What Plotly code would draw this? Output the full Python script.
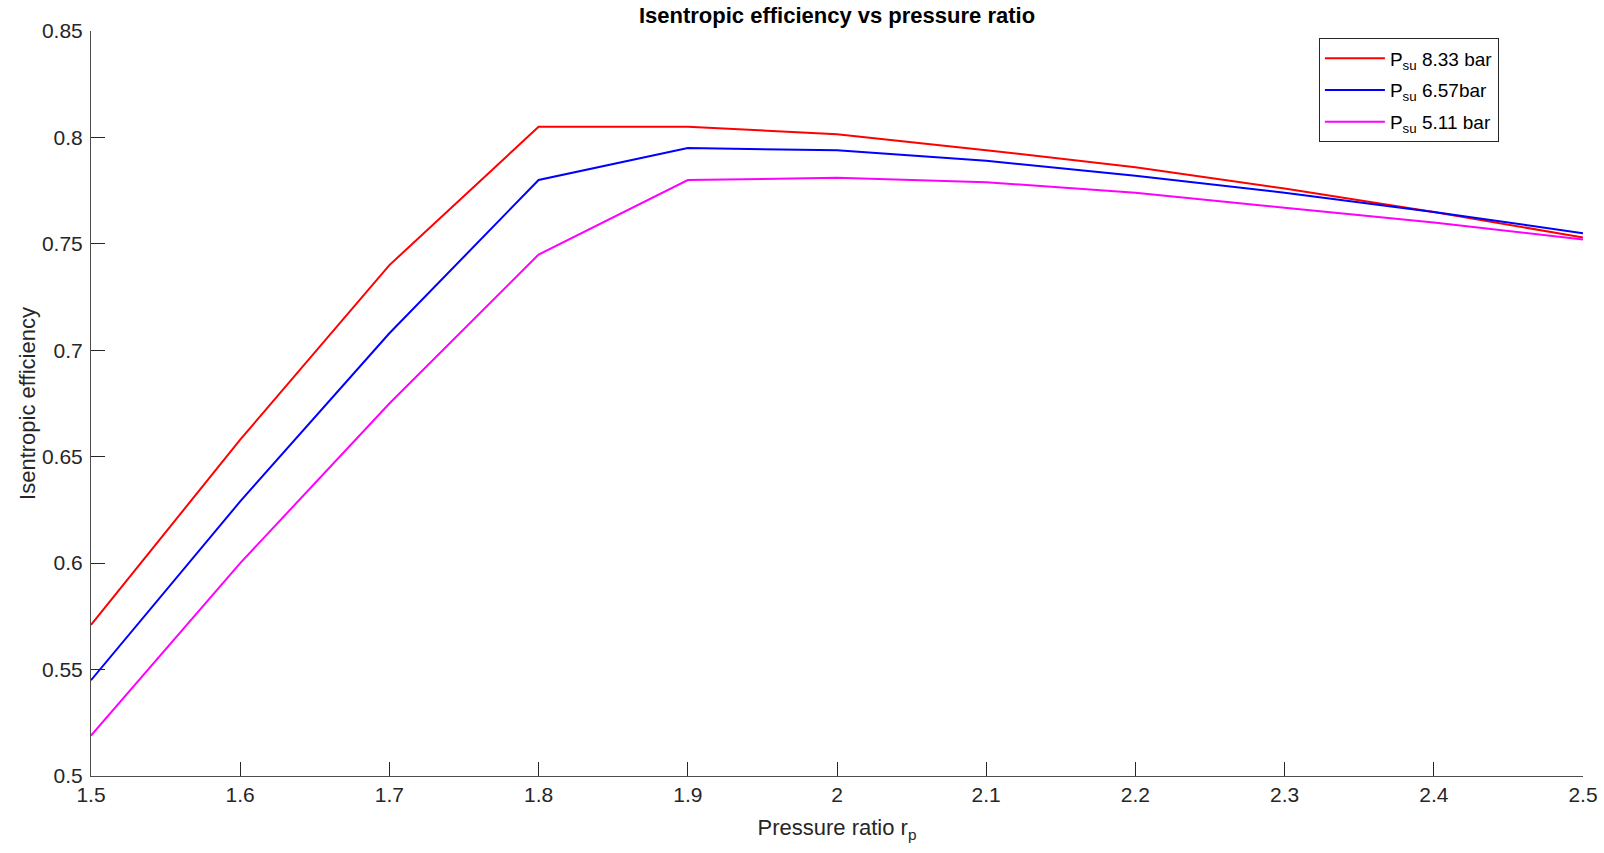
import plotly.graph_objects as go

pressure_ratio = [1.5, 1.6, 1.7, 1.8, 1.9, 2.0, 2.1, 2.2, 2.3, 2.4, 2.5]
eff_833 = [0.571, 0.658, 0.740, 0.805, 0.805, 0.8015, 0.794, 0.786, 0.776, 0.765, 0.753]
eff_657 = [0.545, 0.629, 0.708, 0.780, 0.795, 0.794, 0.789, 0.782, 0.774, 0.765, 0.755]
eff_511 = [0.519, 0.600, 0.675, 0.745, 0.780, 0.781, 0.779, 0.774, 0.767, 0.760, 0.752]
names = ["P<sub>su</sub> 8.33 bar", "P<sub>su</sub> 6.57bar", "P<sub>su</sub> 5.11 bar"]
colors = ["#ff0000", "#0000ff", "#ff00ff"]
x_ticks = [1.5, 1.6, 1.7, 1.8, 1.9, 2.0, 2.1, 2.2, 2.3, 2.4, 2.5]
x_tick_labels = ["1.5", "1.6", "1.7", "1.8", "1.9", "2", "2.1", "2.2", "2.3", "2.4", "2.5"]
y_ticks = [0.5, 0.55, 0.6, 0.65, 0.7, 0.75, 0.8, 0.85]
y_tick_labels = ["0.5", "0.55", "0.6", "0.65", "0.7", "0.75", "0.8", "0.85"]

FONT = "Arial, Liberation Sans, Helvetica, sans-serif"

fig = go.Figure()
for i, (ys, nm, c) in enumerate(zip([eff_833, eff_657, eff_511], names, colors)):
    fig.add_trace(go.Scatter(x=pressure_ratio, y=ys, mode="lines", name=nm,
                             legendgroup=f"g{i}",
                             line=dict(color=c, width=2)))

axis_common = dict(showline=True, linecolor="#4d4d4d", linewidth=1, ticks="inside",
                   ticklen=14, tickcolor="#262626", showgrid=False, zeroline=False,
                   automargin=False, mirror=False,
                   tickfont=dict(family=FONT, size=21, color="#262626"))

fig.update_layout(
    width=1604, height=853,
    margin=dict(l=91, r=21, t=31, b=77),
    paper_bgcolor="white", plot_bgcolor="white",
    title=dict(text="<b>Isentropic efficiency vs pressure ratio</b>", x=0.5, xref="paper",
               y=0.982, yanchor="middle",
               font=dict(family=FONT, size=22, color="#000000")),
    xaxis=dict(range=[1.5, 2.5], tickvals=x_ticks, ticktext=x_tick_labels,
               ticklabelstandoff=0,
               title=dict(text="Pressure ratio r<sub>p</sub>", standoff=14,
                          font=dict(family=FONT, size=22, color="#262626")),
               **axis_common),
    yaxis=dict(range=[0.5, 0.85], tickvals=y_ticks, ticktext=y_tick_labels,
               ticklabelstandoff=3,
               title=dict(text="Isentropic efficiency", standoff=0,
                          font=dict(family=FONT, size=22, color="#262626")),
               **axis_common),
    legend=dict(x=0.823, y=0.99, xanchor="left", yanchor="top",
                bordercolor="#262626", borderwidth=1, bgcolor="white",
                itemwidth=60, tracegroupgap=4, traceorder="grouped",
                font=dict(family=FONT, size=19, color="#000000")),
    showlegend=True,
)

fig.write_html("out.html", config={"displayModeBar": False},
               post_script="document.body.style.margin='0';document.body.style.overflow='hidden';")
